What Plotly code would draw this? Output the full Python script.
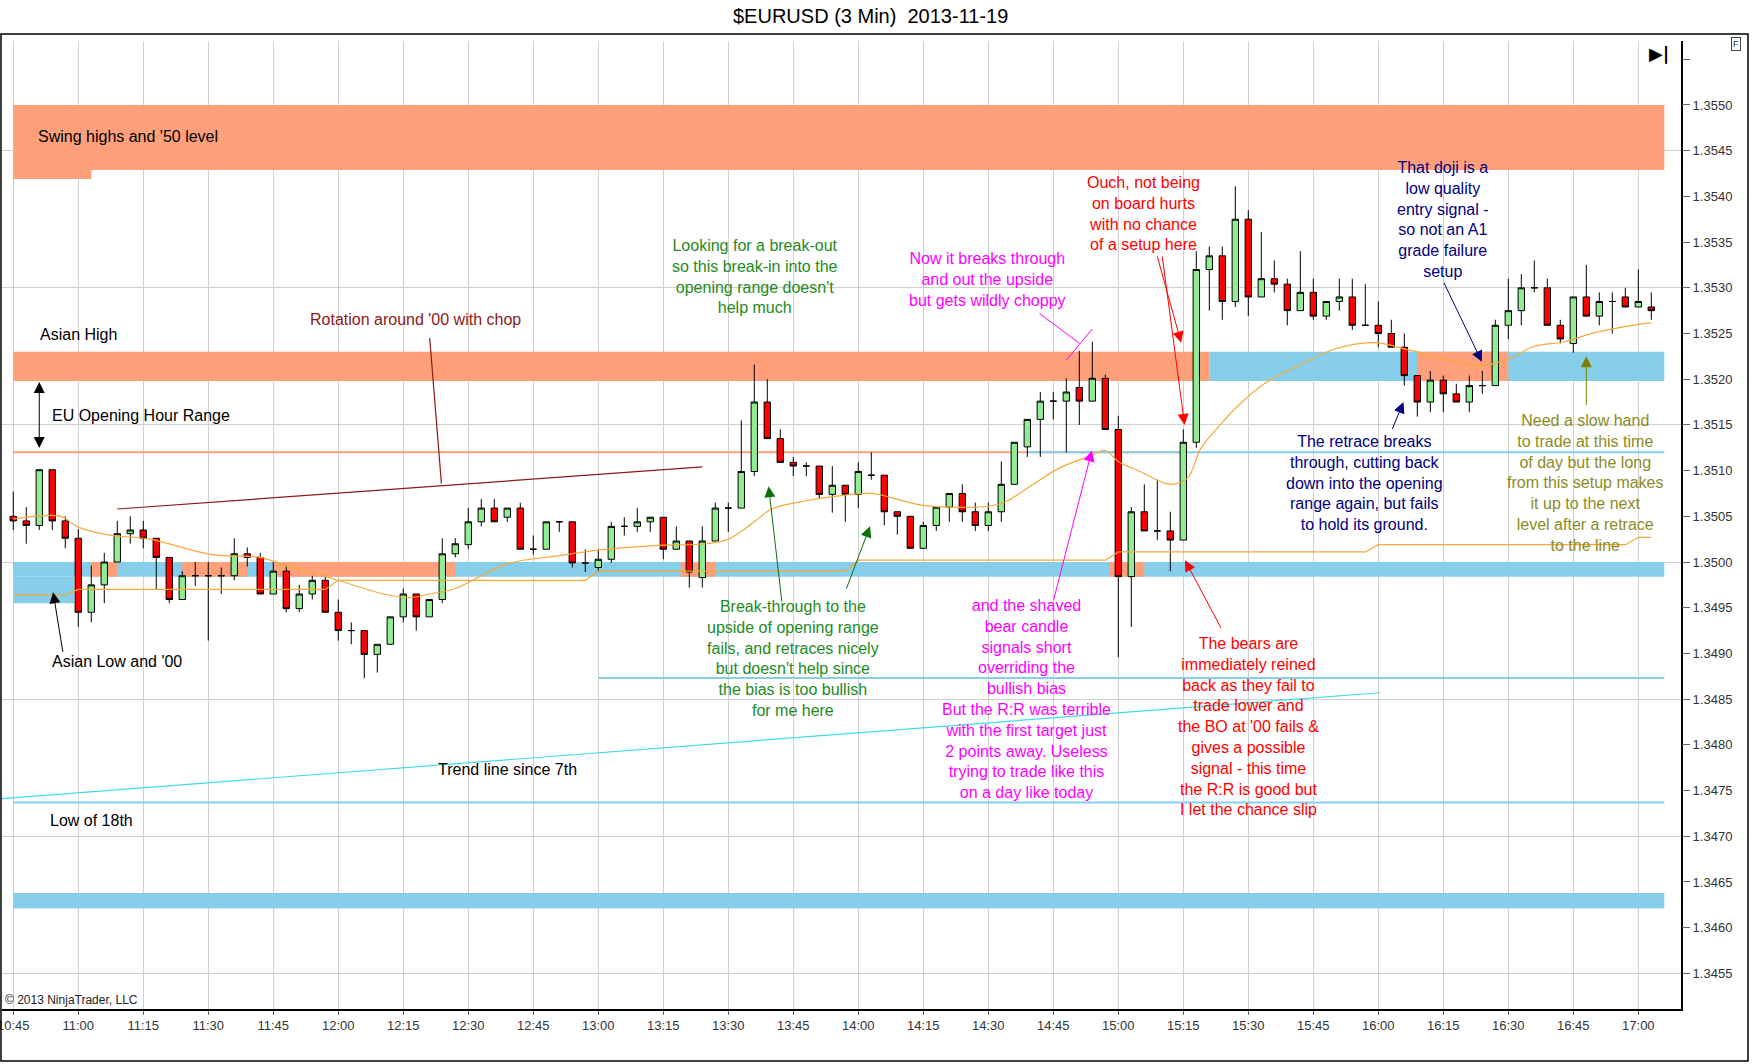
import plotly.graph_objects as go

DAY = "2013-11-19 "


def t(s):
    return DAY + s


# 3 minute candles (time, open, high, low, close)
bar_times = [
    "10:45", "10:48", "10:51", "10:54", "10:57", "11:00", "11:03", "11:06", "11:09", "11:12",
    "11:15", "11:18", "11:21", "11:24", "11:27", "11:30", "11:33", "11:36", "11:39", "11:42",
    "11:45", "11:48", "11:51", "11:54", "11:57", "12:00", "12:03", "12:06", "12:09", "12:12",
    "12:15", "12:18", "12:21", "12:24", "12:27", "12:30", "12:33", "12:36", "12:39", "12:42",
    "12:45", "12:48", "12:51", "12:54", "12:57", "13:00", "13:03", "13:06", "13:09", "13:12",
    "13:15", "13:18", "13:21", "13:24", "13:27", "13:30", "13:33", "13:36", "13:39", "13:42",
    "13:45", "13:48", "13:51", "13:54", "13:57", "14:00", "14:03", "14:06", "14:09", "14:12",
    "14:15", "14:18", "14:21", "14:24", "14:27", "14:30", "14:33", "14:36", "14:39", "14:42",
    "14:45", "14:48", "14:51", "14:54", "14:57", "15:00", "15:03", "15:06", "15:09", "15:12",
    "15:15", "15:18", "15:21", "15:24", "15:27", "15:30", "15:33", "15:36", "15:39", "15:42",
    "15:45", "15:48", "15:51", "15:54", "15:57", "16:00", "16:03", "16:06", "16:09", "16:12",
    "16:15", "16:18", "16:21", "16:24", "16:27", "16:30", "16:33", "16:36", "16:39", "16:42",
    "16:45", "16:48", "16:51", "16:54", "16:57", "17:00", "17:03",
]
opens = [
    1.35050, 1.35045, 1.35040, 1.35101, 1.35045, 1.35026, 1.34945, 1.34975, 1.35000, 1.35031,
    1.35035, 1.35026, 1.35005, 1.34959, 1.34985, 1.34985, 1.34985, 1.34985, 1.35009, 1.35005,
    1.34965, 1.34990, 1.34949, 1.34965, 1.34980, 1.34945, 1.34925, 1.34925, 1.34899, 1.34910,
    1.34940, 1.34965, 1.34940, 1.34959, 1.35009, 1.35019, 1.35044, 1.35059, 1.35049, 1.35059,
    1.35014, 1.35014, 1.35044, 1.35044, 1.34999, 1.34994, 1.35003, 1.35039, 1.35039, 1.35044,
    1.35049, 1.35014, 1.35023, 1.34983, 1.35023, 1.35059, 1.35059, 1.35099, 1.35175, 1.35135,
    1.35109, 1.35105, 1.35105, 1.35074, 1.35084, 1.35074, 1.35095, 1.35095, 1.35055, 1.35050,
    1.35015, 1.35040, 1.35060, 1.35075, 1.35055, 1.35040, 1.35055, 1.35085, 1.35126, 1.35156,
    1.35176, 1.35176, 1.35191, 1.35176, 1.35201, 1.35145, 1.34984, 1.35055, 1.35034, 1.35034,
    1.35024, 1.35131, 1.35320, 1.35335, 1.35285, 1.35375, 1.35290, 1.35310, 1.35304, 1.35275,
    1.35295, 1.35269, 1.35285, 1.35290, 1.35259, 1.35259, 1.35250, 1.35235, 1.35204, 1.35175,
    1.35199, 1.35184, 1.35175, 1.35193, 1.35193, 1.35259, 1.35275, 1.35300, 1.35300, 1.35259,
    1.35239, 1.35290, 1.35269, 1.35285, 1.35290, 1.35279, 1.35279,
]
highs = [
    1.35077, 1.35060, 1.35101, 1.35101, 1.35050, 1.35036, 1.34996, 1.35010, 1.35045, 1.35050,
    1.35045, 1.35026, 1.35005, 1.34990, 1.35000, 1.35000, 1.34994, 1.35026, 1.35016, 1.35010,
    1.35000, 1.34996, 1.34975, 1.34985, 1.34985, 1.34959, 1.34934, 1.34925, 1.34910, 1.34940,
    1.34971, 1.34965, 1.34959, 1.35026, 1.35026, 1.35059, 1.35069, 1.35069, 1.35059, 1.35065,
    1.35029, 1.35044, 1.35044, 1.35044, 1.35014, 1.35014, 1.35044, 1.35049, 1.35059, 1.35049,
    1.35049, 1.35039, 1.35023, 1.35039, 1.35065, 1.35065, 1.35155, 1.35216, 1.35200, 1.35145,
    1.35115, 1.35109, 1.35105, 1.35105, 1.35084, 1.35109, 1.35120, 1.35095, 1.35055, 1.35050,
    1.35044, 1.35060, 1.35075, 1.35085, 1.35065, 1.35065, 1.35110, 1.35131, 1.35156, 1.35186,
    1.35186, 1.35201, 1.35231, 1.35241, 1.35205, 1.35160, 1.35060, 1.35085, 1.35090, 1.35055,
    1.35145, 1.35340, 1.35345, 1.35345, 1.35411, 1.35385, 1.35361, 1.35330, 1.35310, 1.35340,
    1.35310, 1.35285, 1.35310, 1.35310, 1.35304, 1.35285, 1.35265, 1.35250, 1.35204, 1.35209,
    1.35204, 1.35195, 1.35204, 1.35209, 1.35265, 1.35310, 1.35315, 1.35330, 1.35310, 1.35265,
    1.35290, 1.35325, 1.35295, 1.35295, 1.35300, 1.35320, 1.35295,
]
lows = [
    1.35035, 1.35020, 1.35035, 1.35035, 1.35015, 1.34929, 1.34934, 1.34955, 1.35000, 1.35020,
    1.35015, 1.34970, 1.34955, 1.34959, 1.34974, 1.34914, 1.34965, 1.34980, 1.34995, 1.34965,
    1.34965, 1.34945, 1.34945, 1.34959, 1.34945, 1.34914, 1.34910, 1.34873, 1.34879, 1.34910,
    1.34934, 1.34925, 1.34940, 1.34955, 1.35005, 1.35014, 1.35039, 1.35044, 1.35044, 1.35014,
    1.35008, 1.35014, 1.35033, 1.34994, 1.34989, 1.34989, 1.34999, 1.35029, 1.35033, 1.35033,
    1.35003, 1.35014, 1.34972, 1.34972, 1.35023, 1.35033, 1.35059, 1.35094, 1.35135, 1.35109,
    1.35094, 1.35094, 1.35069, 1.35054, 1.35044, 1.35059, 1.35090, 1.35040, 1.35030, 1.35015,
    1.35015, 1.35034, 1.35044, 1.35044, 1.35034, 1.35034, 1.35044, 1.35085, 1.35115, 1.35115,
    1.35156, 1.35120, 1.35150, 1.35176, 1.35145, 1.34896, 1.34929, 1.35034, 1.35024, 1.34990,
    1.35024, 1.35125, 1.35275, 1.35265, 1.35279, 1.35269, 1.35290, 1.35295, 1.35259, 1.35275,
    1.35265, 1.35265, 1.35275, 1.35254, 1.35259, 1.35235, 1.35235, 1.35193, 1.35159, 1.35164,
    1.35164, 1.35175, 1.35164, 1.35184, 1.35193, 1.35244, 1.35259, 1.35295, 1.35259, 1.35239,
    1.35229, 1.35269, 1.35259, 1.35250, 1.35279, 1.35279, 1.35265,
]
closes = [
    1.35045, 1.35040, 1.35101, 1.35045, 1.35026, 1.34945, 1.34975, 1.35000, 1.35031, 1.35035,
    1.35026, 1.35005, 1.34959, 1.34985, 1.34985, 1.34985, 1.34985, 1.35009, 1.35005, 1.34965,
    1.34990, 1.34949, 1.34965, 1.34980, 1.34945, 1.34925, 1.34925, 1.34899, 1.34910, 1.34940,
    1.34965, 1.34940, 1.34959, 1.35009, 1.35020, 1.35044, 1.35059, 1.35044, 1.35059, 1.35014,
    1.35014, 1.35044, 1.35044, 1.34999, 1.34999, 1.35003, 1.35039, 1.35039, 1.35044, 1.35049,
    1.35014, 1.35023, 1.34989, 1.35023, 1.35059, 1.35059, 1.35099, 1.35175, 1.35135, 1.35109,
    1.35105, 1.35105, 1.35074, 1.35084, 1.35074, 1.35099, 1.35095, 1.35055, 1.35050, 1.35015,
    1.35040, 1.35060, 1.35075, 1.35055, 1.35040, 1.35055, 1.35085, 1.35131, 1.35156, 1.35176,
    1.35176, 1.35186, 1.35176, 1.35201, 1.35145, 1.34984, 1.35055, 1.35034, 1.35034, 1.35024,
    1.35131, 1.35320, 1.35335, 1.35285, 1.35375, 1.35290, 1.35310, 1.35304, 1.35275, 1.35295,
    1.35269, 1.35285, 1.35290, 1.35259, 1.35259, 1.35250, 1.35235, 1.35204, 1.35175, 1.35199,
    1.35184, 1.35175, 1.35193, 1.35193, 1.35259, 1.35275, 1.35300, 1.35300, 1.35259, 1.35244,
    1.35290, 1.35269, 1.35285, 1.35285, 1.35279, 1.35285, 1.35275,
]

# orange smooth average line
avg_times = [
    "10:45", "10:56", "10:59:36", "11:06:30", "11:16:30", "11:31", "11:42", "11:49", "11:55",
    "12:02:42", "12:10:24", "12:16:30", "12:21", "12:27", "12:39", "12:51", "13:00", "13:13",
    "13:25", "13:30", "13:36", "13:40", "13:48", "13:55", "14:03", "14:15", "14:30", "14:34",
    "14:40", "14:46:30", "14:53", "14:57", "15:00", "15:05", "15:12", "15:16", "15:19",
    "15:23:30", "15:27", "15:34", "15:43", "15:50", "15:59", "16:08", "16:23:30", "16:30",
    "16:36", "16:43", "16:50", "17:00", "17:03",
]
avg_values = [
    1.35047, 1.35050, 1.35039, 1.35030, 1.35025, 1.35008, 1.35005, 1.34994, 1.34987,
    1.34976, 1.34965, 1.34961, 1.34965, 1.34971, 1.34998, 1.35007, 1.35013, 1.35018,
    1.35020, 1.35025, 1.35044, 1.35058, 1.35067, 1.35072, 1.35075, 1.35062, 1.35061, 1.35066,
    1.35084, 1.35103, 1.35115, 1.35122, 1.35110, 1.35099, 1.35085, 1.35092, 1.35124,
    1.35150, 1.35168, 1.35196, 1.35218, 1.35233, 1.35240, 1.35231, 1.35215, 1.35222,
    1.35236, 1.35241, 1.35251, 1.35260, 1.35262,
]

# orange stepped line
step_times = ["10:45", "10:57", "11:00", "11:57", "12:00", "12:57", "13:00", "13:57", "14:00",
              "14:57", "15:00", "15:57", "16:00", "16:57", "17:00", "17:03"]
step_values = [1.34964, 1.34964, 1.34970, 1.34970, 1.34980, 1.34980, 1.34990, 1.34990, 1.35002,
               1.35002, 1.35011, 1.35011, 1.35019, 1.35019, 1.35027, 1.35027]

# zones: (start, end, low, high, colour)
zones = [
    ("10:45", "17:06", 1.35429, 1.35500, "#FFA07A"),
    ("10:45", "11:03", 1.35419, 1.35429, "#FFA07A"),
    ("10:45", "15:21", 1.35198, 1.35230, "#FFA07A"),
    ("15:21", "17:06", 1.35198, 1.35230, "#87CEEB"),
    ("16:09", "16:30", 1.35198, 1.35230, "#FFA07A"),
    ("10:45", "17:06", 1.34984, 1.35000, "#87CEEB"),
    ("10:45", "10:59", 1.34955, 1.34984, "#87CEEB"),
    ("11:03", "11:09", 1.34984, 1.35000, "#FFA07A"),
    ("11:24", "11:39", 1.34984, 1.35000, "#FFA07A"),
    ("11:45", "12:27", 1.34984, 1.35000, "#FFA07A"),
    ("13:19", "13:27", 1.34984, 1.35000, "#FFA07A"),
    ("14:58", "15:06", 1.34984, 1.35000, "#FFA07A"),
    ("10:45", "17:06", 1.34621, 1.34638, "#87CEEB"),
]

# straight lines: (t0, p0, t1, p1, colour, width)
lines = [
    ("10:45", 1.35120, "15:15", 1.35120, "#FFA07A", 2),
    ("14:39", 1.35120, "17:06", 1.35120, "#87CEEB", 2),
    ("13:00", 1.34873, "17:06", 1.34873, "#87CEEB", 2),
    ("10:45", 1.34737, "17:06", 1.34737, "#87CEEB", 2),
    ("10:42", 1.34741, "16:00:24", 1.34857, "#40DDE6", 1.2),
    ("11:09", 1.35058, "13:24", 1.35104, "#8B1A1A", 1.2),
    ("12:21:06", 1.35245, "12:23:48", 1.35086, "#8B1A1A", 1.2),
    ("14:41:48", 1.35272, "14:51:06", 1.35239, "#FF00FF", 1),
    ("14:54:00", 1.35255, "14:48:00", 1.35221, "#FF00FF", 1),
]

# notes: (time, price, text, colour, anchor)
notes = [
    ("10:50:12", 1.35466, "Swing highs and '50 level", "#000000", "left"),
    ("10:50:36", 1.35249, "Asian High", "#000000", "left"),
    ("10:53:30", 1.35160, "EU Opening Hour Range", "#000000", "left"),
    ("12:17:54", 1.35265, "Rotation around '00 with chop", "#8B1A1A", "center"),
    ("11:08:54", 1.34891, "Asian Low and '00", "#000000", "center"),
    ("10:53:00", 1.34717, "Low of 18th", "#000000", "left"),
    ("12:39:00", 1.34773, "Trend line since 7th", "#000000", "center"),
    ("13:36:06", 1.35312, "Looking for a break-out<br>so this break-in into the<br>"
     "opening range doesn't<br>help much", "#228B22", "center"),
    ("14:29:54", 1.35309, "Now it breaks through<br>and out the upside<br>but gets wildly choppy",
     "#FF00FF", "center"),
    ("15:05:54", 1.35381, "Ouch, not being<br>on board hurts<br>with no chance<br>of a setup here",
     "#FF0000", "center"),
    ("13:45:00", 1.34895, "Break-through to the<br>upside of opening range<br>fails, and retraces nicely"
     "<br>but doesn't help since<br>the bias is too bullish<br>for me here", "#228B22", "center"),
    ("14:38:54", 1.34850, "and the shaved<br>bear candle<br>signals short<br>overriding the<br>bullish bias"
     "<br>But the R:R was terrible<br>with the first target just<br>2 points away. Useless"
     "<br>trying to trade like this<br>on a day like today", "#FF00FF", "center"),
    ("15:30:00", 1.34820, "The bears are<br>immediately reined<br>back as they fail to<br>trade lower and"
     "<br>the BO at '00 fails &<br>gives a possible<br>signal - this time<br>the R:R is good but"
     "<br>I let the chance slip", "#FF0000", "center"),
    ("16:15:00", 1.35375, "That doji is a<br>low quality<br>entry signal -<br>so not an A1<br>"
     "grade failure<br>setup", "#000080", "center"),
    ("15:56:54", 1.35087, "The retrace breaks<br>through, cutting back<br>down into the opening"
     "<br>range again, but fails<br>to hold its ground.", "#000080", "center"),
    ("16:47:54", 1.35086, "Need a slow hand<br>to trade at this time<br>of day but the long"
     "<br>from this setup makes<br>it up to the next<br>level after a retrace<br>to the line",
     "#8C8C1E", "center"),
]

# arrows: (tail time, tail price, tip time, tip price, colour, both ends)
arrows = [
    ("10:56:30", 1.34900, "10:54:12", 1.34967, "#000000", False),
    ("10:51:00", 1.35123, "10:51:00", 1.35197, "#000000", True),
    ("13:42:24", 1.34955, "13:39:18", 1.35083, "#0A700A", False),
    ("13:57:06", 1.34969, "14:02:42", 1.35039, "#0A700A", False),
    ("14:45:00", 1.34957, "14:53:54", 1.35122, "#FF00FF", False),
    ("15:23:54", 1.34926, "15:15:24", 1.35002, "#FF0000", False),
    ("15:08:54", 1.35336, "15:14:30", 1.35240, "#FF0000", False),
    ("15:10:06", 1.35336, "15:15:18", 1.35150, "#FF0000", False),
    ("16:15:00", 1.35307, "16:23:54", 1.35219, "#000080", False),
    ("16:03:06", 1.35144, "16:05:48", 1.35175, "#000080", False),
    ("16:48:00", 1.35170, "16:48:00", 1.35225, "#808000", False),
]

y_low, y_high = 1.34511, 1.35570
x_start, x_end = t("10:42:24"), t("17:09:51")
price_ticks = [round(1.3455 + 0.0005 * i, 4) for i in range(21)]
price_labels = ["%.4f" % v for v in price_ticks[:-1]] + [""]
FONT = "Arial, Liberation Sans, sans-serif"

fig = go.Figure()

fig.add_trace(go.Candlestick(
    x=[t(s) for s in bar_times],
    open=opens, high=highs, low=lows, close=closes,
    increasing=dict(fillcolor="#90EE90", line=dict(color="black", width=1)),
    decreasing=dict(fillcolor="#FF0000", line=dict(color="black", width=1)),
    whiskerwidth=0,
    hoverinfo="skip",
    showlegend=False,
))

fig.add_trace(go.Scatter(
    x=[t(s) for s in avg_times], y=avg_values, mode="lines",
    line=dict(color="#F4A93A", width=1.2, shape="spline"),
    hoverinfo="skip", showlegend=False,
))
fig.add_trace(go.Scatter(
    x=[t(s) for s in step_times], y=step_values, mode="lines",
    line=dict(color="#F4A93A", width=1.2),
    hoverinfo="skip", showlegend=False,
))
# carrier for the labelled price axis
fig.add_trace(go.Scatter(
    x=[t(bar_times[0])], y=[closes[0]], yaxis="y2", mode="markers",
    marker=dict(opacity=0), hoverinfo="skip", showlegend=False,
))

for start, end, lo, hi, col in zones:
    fig.add_shape(type="rect", xref="x", yref="y", x0=t(start), x1=t(end), y0=lo, y1=hi,
                  fillcolor=col, line=dict(width=0), layer="between")

for t0, p0, t1, p1, col, w in lines:
    fig.add_shape(type="line", xref="x", yref="y", x0=t(t0), y0=p0, x1=t(t1), y1=p1,
                  line=dict(color=col, width=w), layer="between")

for tm, pr, txt, col, anchor in notes:
    fig.add_annotation(x=t(tm), y=pr, xref="x", yref="y", text=txt, showarrow=False,
                       xanchor=anchor, yanchor="middle", align="center",
                       font=dict(family=FONT, size=16, color=col))

for t0, p0, t1, p1, col, both in arrows:
    fig.add_annotation(x=t(t1), y=p1, ax=t(t0), ay=p0, xref="x", yref="y", axref="x", ayref="y",
                       text="", showarrow=True, arrowhead=2, arrowsize=2.2, arrowwidth=1,
                       arrowcolor=col, standoff=0, startstandoff=0,
                       arrowside="end+start" if both else "end", startarrowhead=2,
                       startarrowsize=2.2)

# chart furniture
fig.add_annotation(xref="paper", yref="paper", x=0.5173, y=1.0258, yanchor="middle",
                   text="$EURUSD (3 Min)\u00a0 2013-11-19",
                   showarrow=False, font=dict(family=FONT, size=20, color="black"))
fig.add_annotation(xref="paper", yref="paper", x=0.0006, y=0.0093, xanchor="left", yanchor="middle",
                   text="\u00a9 2013 NinjaTrader, LLC", showarrow=False,
                   font=dict(family=FONT, size=12, color="#222222"))
fig.add_annotation(xref="paper", yref="paper", x=0.994, y=0.9866, yanchor="middle",
                   text="<b>\u25B6|</b>",
                   showarrow=False, font=dict(family="DejaVu Sans", size=18, color="black"))
fig.add_annotation(xref="paper", yref="paper", x=1.0357, y=0.9969, yanchor="middle", text="F",
                   showarrow=False, bordercolor="#444444", borderwidth=1, borderpad=1,
                   font=dict(family=FONT, size=9, color="#333333"))
fig.add_shape(type="rect", xref="paper", yref="paper", x0=-0.0006, x1=1.0399, y0=-0.0537, y1=1.0072,
              line=dict(color="black", width=1.5), fillcolor="rgba(0,0,0,0)", layer="above")

fig.update_layout(
    width=1752, height=1064, autosize=False,
    margin=dict(l=2, r=71, t=41, b=55, autoexpand=False),
    paper_bgcolor="white", plot_bgcolor="white",
    font=dict(family=FONT, size=13, color="#333333"),
    xaxis=dict(
        type="date", range=[x_start, x_end], rangeslider=dict(visible=False),
        tick0=t("10:45"), dtick=900000, tickformat="%H:%M",
        showgrid=True, gridcolor="#D0D0D0", gridwidth=1,
        ticks="outside", ticklen=4, tickcolor="#666666",
        showline=True, linecolor="black", linewidth=1.5,
        ticklabeloverflow="allow", tickfont=dict(size=13, color="#333333"),
        zeroline=False, automargin=False,
    ),
    yaxis=dict(
        range=[y_low, y_high], side="right", tick0=1.3455, dtick=0.0015,
        showgrid=True, gridcolor="#D0D0D0", gridwidth=1,
        showticklabels=False, ticks="", zeroline=False,
        showline=True, linecolor="black", linewidth=1.5, automargin=False,
    ),
    yaxis2=dict(
        range=[y_low, y_high], overlaying="y", side="right", anchor="x",
        tickmode="array", tickvals=price_ticks, ticktext=price_labels,
        showgrid=False, zeroline=False, automargin=False,
        ticks="outside", ticklen=8, tickcolor="#666666", showline=False,
        tickfont=dict(size=13, color="#333333"),
    ),
    hovermode=False,
)

fig.write_html("out.html", config={"displayModeBar": False},
               post_script="document.body.style.margin='0';")
